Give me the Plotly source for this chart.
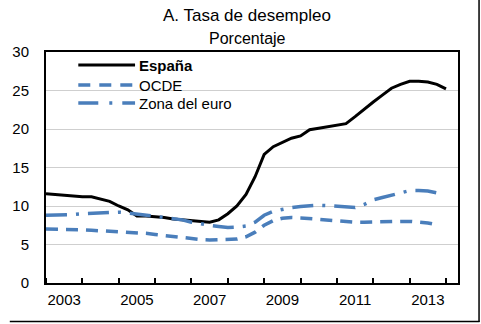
import plotly.graph_objects as go

# Quarterly unemployment rates (%), 2003Q1 onwards
espana = [11.6, 11.5, 11.4, 11.3,
          11.2, 11.2, 10.9, 10.6,
          10.0, 9.5, 8.7, 8.7,
          8.6, 8.5, 8.3, 8.2,
          8.1, 8.0, 7.9, 8.2,
          9.0, 10.0, 11.5, 13.8,
          16.7, 17.7, 18.3, 18.8,
          19.1, 19.9, 20.1, 20.3,
          20.5, 20.7, 21.6, 22.6,
          23.5, 24.4, 25.3, 25.8,
          26.2, 26.2, 26.1, 25.8,
          25.2]
ocde = [7.0, 7.0, 6.95, 6.9,
        6.9, 6.85, 6.8, 6.75,
        6.7, 6.65, 6.55, 6.45,
        6.3, 6.15, 6.0, 5.9,
        5.75, 5.65, 5.6, 5.6,
        5.6, 5.7, 6.0, 6.6,
        7.5, 8.1, 8.4, 8.5,
        8.45, 8.35, 8.3, 8.2,
        8.0, 7.9, 7.9, 7.9,
        7.95, 8.0, 8.0, 8.0,
        8.0, 7.95, 7.8, 7.55]
zona_euro = [8.8, 8.8, 8.85, 8.9,
             9.0, 9.05, 9.1, 9.2,
             9.2, 9.1, 8.95, 8.9,
             8.75, 8.6, 8.4, 8.2,
             7.9, 7.65, 7.5, 7.35,
             7.2, 7.25, 7.4, 7.9,
             8.8, 9.3, 9.6, 9.8,
             9.95, 10.05, 10.1, 10.05,
             10.0, 9.9, 9.8, 10.2,
             10.8, 11.1, 11.4, 11.7,
             12.0, 12.0, 11.95, 11.7]

start_year = 2003
year_labels = ["2003", "2005", "2007", "2009", "2011", "2013"]
series_names = ["España", "OCDE", "Zona del euro"]

def quarters(n):
    return [start_year + i / 4 for i in range(n)]

BLUE = "#4A7EBB"
FONT = "Liberation Sans Narrow, Arial Narrow, Liberation Sans, Arial, sans-serif"

W, H = 481, 324
ML, MR, MT, MB = 37, 23, 52, 41

fig = go.Figure()
fig.add_trace(go.Scatter(x=quarters(len(espana)), y=espana, mode="lines",
                         name=series_names[0], line=dict(color="black", width=3)))
fig.add_trace(go.Scatter(x=quarters(len(ocde)), y=ocde, mode="lines",
                         name=series_names[1],
                         line=dict(color=BLUE, width=3.5, dash="12px,8px")))
fig.add_trace(go.Scatter(x=quarters(len(zona_euro)), y=zona_euro, mode="lines",
                         name=series_names[2],
                         line=dict(color=BLUE, width=3.5, dash="21px,9px,3px,9px")))

plot_w = W - ML - MR
plot_h = H - MT - MB

def px_x(px):
    return (px - ML) / plot_w

def px_y(py):
    return (H - MB - py) / plot_h

shapes = []
annotations = []

# Hand-drawn legend in the upper-left corner of the plot
legend_rows = [
    (series_names[0], dict(color="black", width=3), True, 65),
    (series_names[1], dict(color=BLUE, width=3.5, dash="12px,9px"), False, 85),
    (series_names[2], dict(color=BLUE, width=3.5, dash="20px,11px,3px,10px"), False, 103),
]
for name, ln, bold, py in legend_rows:
    shapes.append(dict(type="line", xref="paper", yref="paper",
                       x0=px_x(70), x1=px_x(128), y0=px_y(py), y1=px_y(py), line=ln))
    annotations.append(dict(text=f"<b>{name}</b>" if bold else name,
                            xref="paper", yref="paper", x=px_x(130), y=px_y(py),
                            xanchor="left", yanchor="middle", showarrow=False,
                            font=dict(family=FONT, size=15, color="black")))

# Titles
annotations.append(dict(text="A. Tasa de desempleo", xref="paper", yref="paper",
                        x=px_x(242), y=px_y(16), xanchor="center", yanchor="middle",
                        showarrow=False, font=dict(family=FONT, size=17, color="black")))
annotations.append(dict(text="Porcentaje", xref="paper", yref="paper",
                        x=px_x(243), y=px_y(38), xanchor="center", yanchor="middle",
                        showarrow=False, font=dict(family=FONT, size=16, color="black")))

# Outer frame (right and bottom edges)
shapes.append(dict(type="line", xref="paper", yref="paper",
                   x0=px_x(479.5), x1=px_x(479.5), y0=px_y(0), y1=px_y(322),
                   line=dict(color="black", width=1.5)))
shapes.append(dict(type="line", xref="paper", yref="paper",
                   x0=px_x(0), x1=px_x(480), y0=px_y(321.5), y1=px_y(321.5),
                   line=dict(color="black", width=1.5)))

fig.update_layout(
    width=W, height=H,
    margin=dict(l=ML, r=MR, t=MT, b=MB),
    paper_bgcolor="white", plot_bgcolor="white",
    showlegend=False,
    font=dict(family=FONT, size=15, color="black"),
    shapes=shapes, annotations=annotations,
    xaxis=dict(
        range=[start_year, 2014.33],
        tickvals=[int(y) + 0.5 for y in year_labels],
        ticktext=year_labels,
        ticks="", showgrid=False, zeroline=False,
        showline=True, linecolor="black", linewidth=2, mirror=True,
        tickfont=dict(family=FONT, size=15),
        ticklabelstandoff=2,
        minor=dict(tickvals=list(range(start_year, 2015)), ticks="inside",
                   ticklen=5, tickcolor="black", tickwidth=1.5, showgrid=False),
    ),
    yaxis=dict(
        range=[0, 30], dtick=5, tick0=0,
        showgrid=True, gridcolor="#CFCFCF", gridwidth=1,
        zeroline=False, ticks="",
        showline=True, linecolor="black", linewidth=2, mirror=True,
        ticklabelstandoff=12,
        tickfont=dict(family=FONT, size=15),
    ),
)

fig.write_html("out.html")
